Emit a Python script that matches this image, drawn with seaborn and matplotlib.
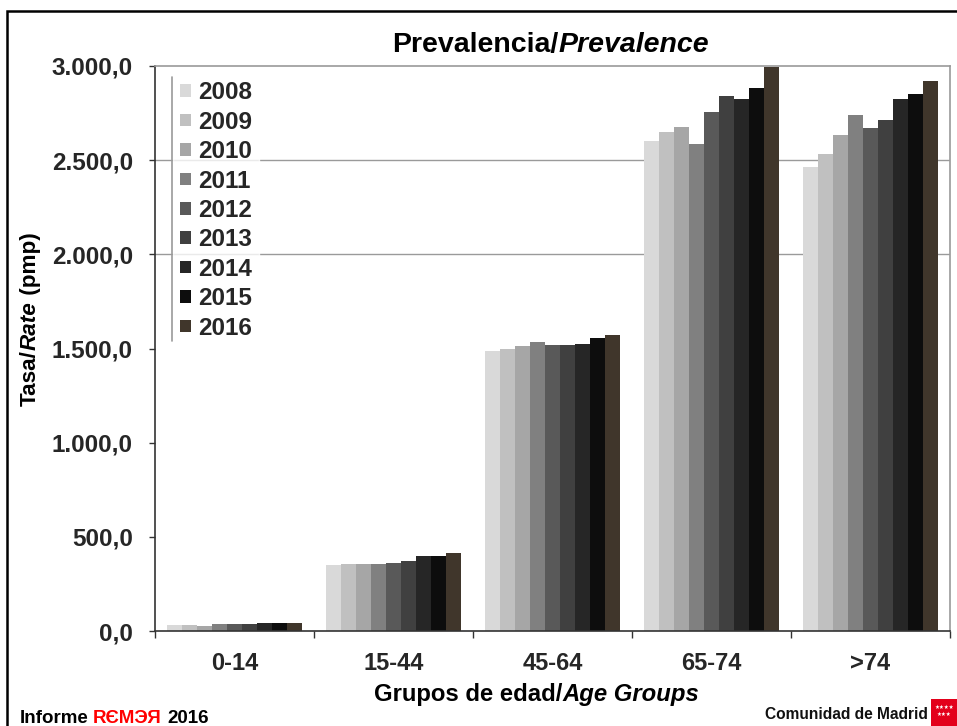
import matplotlib
matplotlib.use('Agg')
import matplotlib.pyplot as plt
import matplotlib.patches as mpatches
import seaborn as sns
import pandas as pd
import numpy as np

# DATA -----------------------------------------------------------------------------

age_groups = ['0-14', '15-44', '45-64', '65-74', '>74']
years = ['2008', '2009', '2010', '2011', '2012', '2013', '2014', '2015', '2016']

# rate (pmp) per year, one list per age group
rate_0_14 = [33, 34, 29, 36, 36, 37, 44, 44, 41]
rate_15_44 = [350, 356, 356, 357, 361, 373, 398, 398, 412]
rate_45_64 = [1489, 1499, 1513, 1536, 1520, 1520, 1526, 1556, 1572]
rate_65_74 = [2604, 2652, 2678, 2586, 2756, 2840, 2824, 2882, 2994]
rate_gt_74 = [2464, 2535, 2631, 2741, 2671, 2712, 2824, 2851, 2923]

year_colors = ['#d9d9d9', '#c0c0c0', '#a6a6a6', '#808080', '#595959',
               '#404040', '#262626', '#0d0d0d', '#40362b']

y_ticks = [0, 500, 1000, 1500, 2000, 2500, 3000]

# BUILD DATAFRAME ------------------------------------------------------------------

rates = [rate_0_14, rate_15_44, rate_45_64, rate_65_74, rate_gt_74]
rows = []
for grp, vals in zip(age_groups, rates):
    for yr, v in zip(years, vals):
        rows.append({'grupo': grp, 'anio': yr, 'tasa': v})
df = pd.DataFrame(rows)

# PLOT -----------------------------------------------------------------------------

sns.set_theme(style='white')
plt.rcParams['font.family'] = ['Liberation Sans', 'DejaVu Sans']

W, H = 957, 726
fig = plt.figure(figsize=(W / 100, H / 100), dpi=100)


def fx(px):
    return px / W


def fy(py):
    return 1 - py / H


ax = fig.add_axes([fx(155), fy(631), fx(950) - fx(155), fy(66) - fy(631)])

sns.barplot(data=df, x='grupo', y='tasa', hue='anio', order=age_groups, hue_order=years,
            palette=year_colors, saturation=1, width=0.85, edgecolor='none', ax=ax)

ax.set_xlim(-0.5, 4.5)
ax.set_ylim(0, 3000)

# gridlines only at 2000 and 2500 (3000 is the top frame)
for g in [2000, 2500]:
    ax.axhline(g, color='#9a9a9a', lw=1.0, zorder=0)

ax.set_yticks(y_ticks)
ax.set_yticklabels([f'{v:,.1f}'.replace(',', 'X').replace('.', ',').replace('X', '.') for v in y_ticks])
ax.set_xticks(np.arange(-0.5, 5, 1))
ax.set_xticklabels([])
ax.set_xticks(range(5), minor=True)
ax.set_xticklabels(age_groups, minor=True)
ax.tick_params(axis='y', which='major', length=4, width=1, color='#333333', direction='out',
               labelsize=17.5, pad=12, left=True)
ax.tick_params(axis='x', which='major', length=5, width=1, color='#333333', direction='out', bottom=True)
ax.tick_params(axis='x', which='minor', length=0, labelsize=17, pad=15)
for lab in ax.get_yticklabels() + ax.get_xticklabels(minor=True):
    lab.set_fontweight('bold')

ax.set_xlabel('')
ax.set_ylabel('')
for side in ['top', 'right']:
    ax.spines[side].set_color('#9a9a9a')
    ax.spines[side].set_linewidth(1.2)
for side in ['left', 'bottom']:
    ax.spines[side].set_color('#333333')
    ax.spines[side].set_linewidth(1.2)

# legend: white box, only left edge visible
handles, labels = ax.get_legend_handles_labels()
leg = ax.legend(handles, labels, loc='upper left', bbox_to_anchor=(fx(173 - 155) / (fx(950) - fx(155)), 0.986),
                frameon=True, fontsize=17.5, handlelength=0.42, handleheight=0.42, handletextpad=0.3,
                labelspacing=0.265, borderpad=0.3, borderaxespad=0, fancybox=False)
leg.get_frame().set_edgecolor('white')
leg.get_frame().set_facecolor('white')
for t in leg.get_texts():
    t.set_fontweight('bold')
fig.lines.append(plt.Line2D([fx(172), fx(172)], [fy(77), fy(341)], transform=fig.transFigure,
                            color='#9a9a9a', lw=1.2, zorder=10))

# TEXTS ----------------------------------------------------------------------------

renderer = fig.canvas.get_renderer()


def rich_text(x, y, parts, size, rotation=0, gap=0.0):
    """Draw text segments with different styles side by side, centred at (x, y) in pixels."""
    objs = []
    lengths = []
    for s, style, color in parts:
        t = fig.text(0, 0, s, fontsize=size, fontweight='bold', fontstyle=style, color=color,
                     rotation=0, rotation_mode='anchor', ha='left', va='baseline')
        bb = t.get_window_extent(renderer=renderer)
        t.set_rotation(rotation)
        objs.append(t)
        lengths.append(bb.width)
    total = sum(lengths) + gap * (len(parts) - 1)
    pos = -total / 2
    for t, ln in zip(objs, lengths):
        if rotation == 0:
            t.set_position((fx(x + pos), fy(y)))
        else:
            t.set_position((fx(x), fy(y - pos)))
        pos += ln + gap
    return objs


rich_text(551, 52, [('Prevalencia/', 'normal', 'black'), ('Prevalence', 'italic', 'black')], 20.5)
rich_text(537, 701, [('Grupos de edad/', 'normal', 'black'), ('Age Groups', 'italic', 'black')], 17.2)
rich_text(36, 319, [('Tasa/', 'normal', 'black'), ('Rate', 'italic', 'black'), (' (pmp)', 'normal', 'black')],
          16.2, rotation=90)

# footer
rich_text(114, 723, [('Informe', 'normal', 'black'), ('RЄMЭЯ', 'normal', '#ff0000'),
                     ('2016', 'normal', 'black')], 13.5, gap=5)
fig.text(fx(928), fy(719), 'Comunidad de Madrid', fontsize=11.2, fontweight='heavy',
         ha='right', va='baseline', color='#111111')
fig.patches.append(mpatches.Rectangle((fx(931), 0), fx(957) - fx(931), fy(699), transform=fig.transFigure,
                                      facecolor='#e3001b', edgecolor='none', zorder=5))
fig.text(fx(944), fy(707), '★★★★', fontsize=4, color='white', ha='center', va='center',
         family='DejaVu Sans', zorder=6)
fig.text(fx(944), fy(714), '★★★', fontsize=4, color='white', ha='center', va='center',
         family='DejaVu Sans', zorder=6)

# outer frame
fig.patches.append(mpatches.Rectangle((fx(7), -0.1), 1.2, fy(11) + 0.1, transform=fig.transFigure,
                                      facecolor='none', edgecolor='black', lw=1.8, zorder=1))

fig.savefig('out.png', dpi=100)
